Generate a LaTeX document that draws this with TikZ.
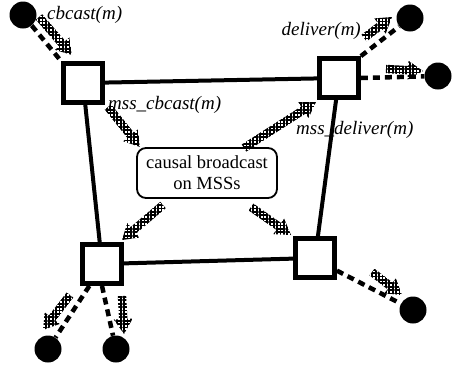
\documentclass[tikz,border=0pt]{standalone}
\usepackage{fontspec}
\setmainfont{Liberation Serif}
\newfontfamily\tms{Liberation Serif}
\usetikzlibrary{calc,patterns.meta}

\tikzdeclarepattern{
  name=mesh,
  type=uncolored,
  bottom left={(-.1pt,-.1pt)},
  top right={(3.5pt,3.5pt)},
  tile size={(3.4pt,3.4pt)},
  code={
    \draw[line width=1.9pt] (0pt,1.7pt) -- (3.4pt,1.7pt) (1.7pt,0pt) -- (1.7pt,3.4pt);
  }
}

\newcommand\harrow[2]{%
  \coordinate (ha) at #1; \coordinate (hb) at #2;
  \coordinate (hh) at ($(hb)!15pt!(ha)$);
  \fill[hatch] ($(ha)!4.2pt!90:(hb)$) -- ($(hh)!4.2pt!-90:(ha)$) -- ($(hh)!9.5pt!-90:(ha)$) -- (hb) -- ($(hh)!9.5pt!90:(ha)$) -- ($(hh)!4.2pt!90:(ha)$) -- ($(ha)!4.2pt!-90:(hb)$) -- cycle;}

\begin{document}
\begin{tikzpicture}[x=1pt,y=-1pt,
  mss/.style={draw, line width=4.8pt, fill=white, minimum size=39pt, inner sep=0pt},
  host/.style={circle, fill=black, minimum size=27pt, inner sep=0pt},
  link/.style={line width=4pt},
  wireless/.style={line width=4.5pt, dash pattern=on 7pt off 5pt},
  lbl/.style={font=\tms\fontsize{19}{22}\selectfont\itshape, inner sep=0pt},
  cbox/.style={draw, line width=1.8pt, rounded corners=9pt, minimum width=140pt, minimum height=50pt, align=center, font=\tms\fontsize{18.5}{21}\selectfont, inner sep=2pt},
  hatch/.style={pattern=mesh, pattern color=black}
]
\useasboundingbox (0,0) rectangle (454,370);

% MSS squares
\node[mss] (s1) at (83,83) {};
\node[mss] (s2) at (339,78) {};
\node[mss] (s3) at (102,264) {};
\node[mss] (s4) at (315,258) {};
% central box
\node[cbox] (cb) at (207,173) {causal broadcast\\on MSSs};
% mobile hosts
\node[host] (h1) at (23,15) {};
\node[host] (h2) at (410,18) {};
\node[host] (h3) at (438,76) {};
\node[host] (h4) at (48,349) {};
\node[host] (h5) at (116,349) {};
\node[host] (h6) at (413,310) {};

% wired links
\draw[link] (s1) -- (s2);
\draw[link] (s1) -- (s3);
\draw[link] (s2) -- (s4);
\draw[link] (s3) -- (s4);

% wireless links
\draw[wireless] (h1) -- (s1.north west);
\draw[wireless] (s2.north east) -- (h2);
\draw[wireless] (s2.east) -- (h3);
\draw[wireless] (s3.240) -- (h4);
\draw[wireless] (s3.south) -- (h5);
\draw[wireless] (s4.-30) -- (h6);

% hatched message arrows
\coordinate (a1s) at (39,17);   \coordinate (a1e) at (72,55);
\coordinate (a2s) at (108,107); \coordinate (a2e) at (140,147);
\coordinate (a3s) at (244,148); \coordinate (a3e) at (316,102);
\coordinate (a4s) at (364,38);  \coordinate (a4e) at (392,17);
\coordinate (a5s) at (386,69);  \coordinate (a5e) at (423,71);
\coordinate (a6s) at (163,205); \coordinate (a6e) at (122,240);
\coordinate (a7s) at (251,207); \coordinate (a7e) at (291,235);
\coordinate (a8s) at (372,272); \coordinate (a8e) at (402,295);
\coordinate (a9s) at (70,295);  \coordinate (a9e) at (43,330);
\coordinate (a10s) at (122,296); \coordinate (a10e) at (124,334);
\harrow{(a1s)}{(a1e)}
\harrow{(a2s)}{(a2e)}
\harrow{(a3s)}{(a3e)}
\harrow{(a4s)}{(a4e)}
\harrow{(a5s)}{(a5e)}
\harrow{(a6s)}{(a6e)}
\harrow{(a7s)}{(a7e)}
\harrow{(a8s)}{(a8e)}
\harrow{(a9s)}{(a9e)}
\harrow{(a10s)}{(a10e)}

% labels
\node[lbl, anchor=base west] (l1) at (47,19) {cbcast(m)};
\node[lbl, anchor=base east] (l2) at (361,35) {deliver(m)};
\node[lbl, anchor=base west] (l3) at (108,109) {mss\_cbcast(m)};
\node[lbl, anchor=base west] (l4) at (296,134) {mss\_deliver(m)};
\end{tikzpicture}
\end{document}
